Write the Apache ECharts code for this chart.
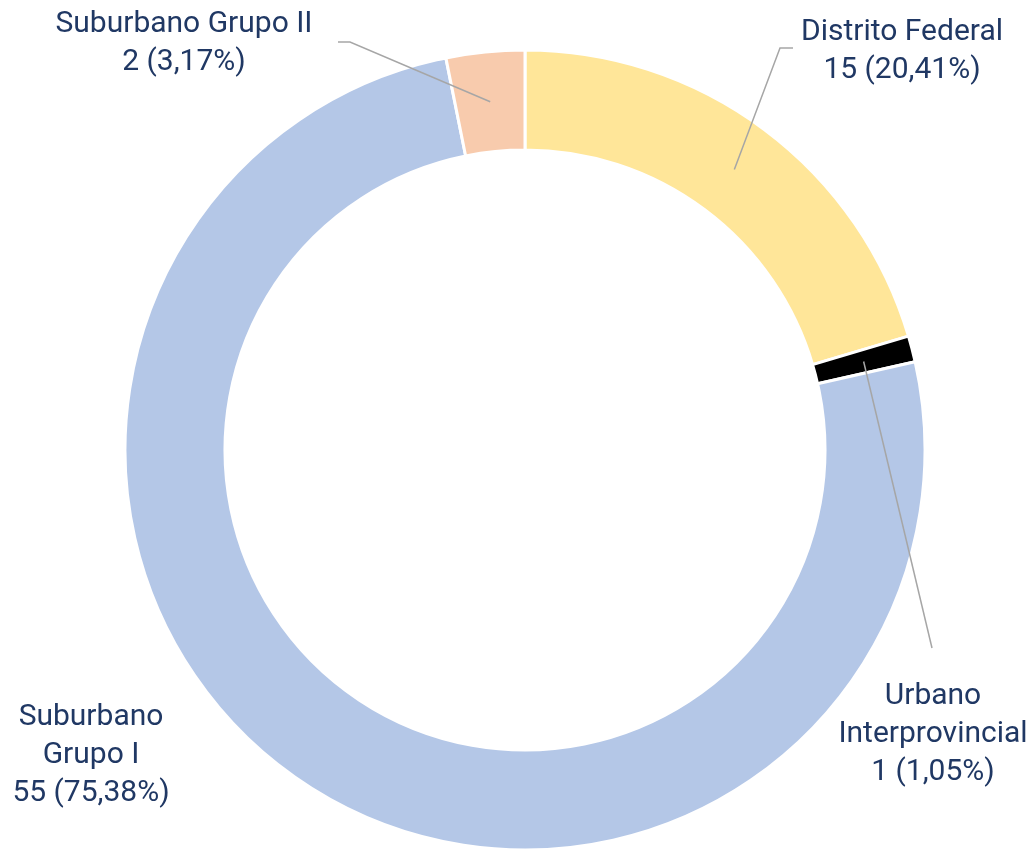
<!DOCTYPE html>
<html>
<head>
<meta charset="utf-8">
<script src="https://cdn.jsdelivr.net/npm/echarts@6/dist/echarts.min.js"></script>
<style>
  html, body { margin: 0; padding: 0; background: #fff; }
  #pie { width: 1031px; height: 849px; }
</style>
</head>
<body>
<div id="pie"></div>
<script>
// datos
const categories = ['Distrito Federal', 'Urbano Interprovincial', 'Suburbano Grupo I', 'Suburbano Grupo II'];
const counts = [15, 1, 55, 2];
const percents = [20.41, 1.05, 75.38, 3.17];
const colors = ['#FFE699', '#000000', '#B4C7E7', '#F8CBAD'];

// donde van las etiquetas (centro del texto) y el codo de la linea
const labelPos = [
  { x: 902, y: 51, elbow: [[780, 48], [793, 48]] },
  { x: 933, y: 734, elbow: [[932, 648]] },
  { x: 91, y: 755, elbow: null },
  { x: 184, y: 43, elbow: [[350, 42], [338, 42]] }
];
const cx = 525, cy = 450, rIn = 300, rOut = 400;

const total = percents.reduce((a, b) => a + b, 0);
let acc = 0;
const midAngles = percents.map(p => {
  const a = (acc + p / 2) / total * Math.PI * 2;
  acc += p;
  return a;
});

const wrapNames = {
  'Urbano Interprovincial': 'Urbano\nInterprovincial',
  'Suburbano Grupo I': 'Suburbano\nGrupo I'
};

// lineas guia: desde el medio del anillo hasta el codo
const rMid = (rIn + rOut) / 2;
const guides = [];
labelPos.forEach((pos, i) => {
  if (!pos.elbow) return;
  const a = midAngles[i];
  const start = [cx + rMid * Math.sin(a), cy - rMid * Math.cos(a)];
  guides.push({
    type: 'polyline',
    z: 100,
    silent: true,
    shape: { points: [start].concat(pos.elbow) },
    style: { stroke: '#A6A6A6', lineWidth: 1.5, fill: null }
  });
});

const option = {
  animation: false,
  graphic: guides,
  series: [{
    type: 'pie',
    center: [cx, cy],
    radius: [rIn, rOut],
    startAngle: 90,
    clockwise: true,
    avoidLabelOverlap: false,
    silent: true,
    itemStyle: { borderColor: '#fff', borderWidth: 3 },
    label: {
      show: true,
      position: 'outside',
      color: '#203864',
      fontFamily: 'Roboto',
      fontSize: 30,
      lineHeight: 38,
      align: 'center',
      formatter: p => {
        const i = p.dataIndex;
        const name = wrapNames[p.name] || p.name;
        return name + '\n' + counts[i] + ' (' + percents[i].toFixed(2).replace('.', ',') + '%)';
      }
    },
    labelLine: { show: false },
    labelLayout: params => {
      const pos = labelPos[params.dataIndex];
      return { x: pos.x, y: pos.y, align: 'center', verticalAlign: 'middle' };
    },
    data: categories.map((name, i) => ({
      name: name,
      value: percents[i],
      itemStyle: { color: colors[i] }
    }))
  }]
};

const myChart = echarts.init(document.getElementById('pie'));
myChart.setOption(option);
</script>
</body>
</html>
